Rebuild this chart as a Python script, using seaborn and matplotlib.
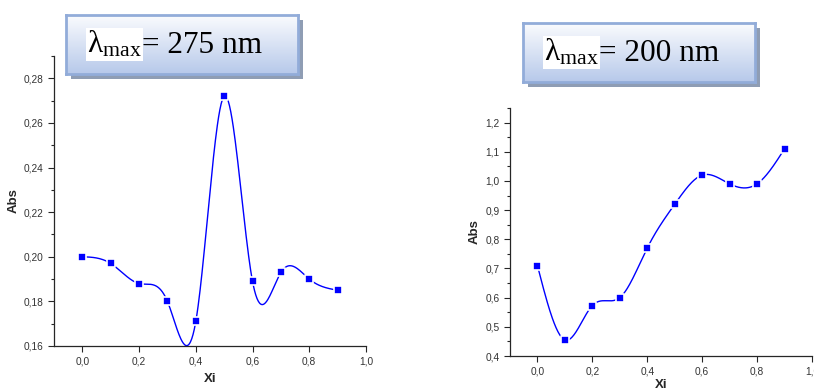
import matplotlib
matplotlib.use("Agg")
import matplotlib.pyplot as plt
import matplotlib.ticker as mticker
import matplotlib.transforms as mtrans
import numpy as np
import seaborn as sns

# data
xi = [0.0, 0.1, 0.2, 0.3, 0.4, 0.5, 0.6, 0.7, 0.8, 0.9]
abs_275 = [0.200, 0.197, 0.188, 0.180, 0.171, 0.272, 0.189, 0.193, 0.190, 0.185]
abs_200 = [0.71, 0.455, 0.573, 0.600, 0.77, 0.92, 1.02, 0.99, 0.99, 1.11]
titles = ["275", "200"]

sns.set_style("ticks")
plt.rcParams['font.family'] = ['Liberation Sans', 'DejaVu Sans']
plt.rcParams['mathtext.fontset'] = 'custom'
plt.rcParams['mathtext.rm'] = 'Liberation Serif'


def natural_spline(x, y, n=400):
    # natural cubic spline through the points (like Origin's spline line)
    x = np.asarray(x, float)
    y = np.asarray(y, float)
    k = len(x)
    h = np.diff(x)
    A = np.zeros((k, k))
    b = np.zeros(k)
    A[0, 0] = A[-1, -1] = 1
    for i in range(1, k - 1):
        A[i, i - 1] = h[i - 1]
        A[i, i] = 2 * (h[i - 1] + h[i])
        A[i, i + 1] = h[i]
        b[i] = 6 * ((y[i + 1] - y[i]) / h[i] - (y[i] - y[i - 1]) / h[i - 1])
    M = np.linalg.solve(A, b)
    xs = np.linspace(x[0], x[-1], n)
    j = np.clip(np.searchsorted(x, xs) - 1, 0, k - 2)
    t0 = x[j + 1] - xs
    t1 = xs - x[j]
    ys = (M[j] * t0**3 + M[j + 1] * t1**3) / (6 * h[j]) \
        + (y[j] / h[j] - M[j] * h[j] / 6) * t0 \
        + (y[j + 1] / h[j] - M[j + 1] * h[j] / 6) * t1
    return xs, ys


fig = plt.figure(figsize=(8.14, 3.91), dpi=100)

ax1 = fig.add_axes([0.0663, 0.1151, 0.3833, 0.7417])
ax2 = fig.add_axes([0.6265, 0.0895, 0.3710, 0.6343])

setups = [
    (ax1, abs_275, (0.16, 0.29), 0.02, 0.01, 5),
    (ax2, abs_200, (0.4, 1.25), 0.1, 0.05, 1.5),
]

comma = mticker.FuncFormatter(lambda v, p: ("%.1f" % v).replace(".", ","))
for ax, yv, ylim, major, minor, xpad in setups:
    xs, ys = natural_spline(xi, yv)
    sns.lineplot(x=xs, y=ys, ax=ax, color="blue", lw=1, sort=False)
    sns.scatterplot(x=xi, y=yv, ax=ax, marker="s", color="blue", s=36,
                    edgecolor="white", linewidth=1.2, zorder=3)
    ax.set_xlim(-0.1, 1.0)
    ax.set_ylim(*ylim)
    ax.xaxis.set_major_locator(mticker.MultipleLocator(0.2))
    ax.xaxis.set_major_formatter(comma)
    ax.yaxis.set_major_locator(mticker.MultipleLocator(major))
    ax.yaxis.set_minor_locator(mticker.MultipleLocator(minor))
    fmt = "%.2f" if major < 0.1 else "%.1f"
    ax.yaxis.set_major_formatter(
        mticker.FuncFormatter(lambda v, p, f=fmt: (f % v).replace(".", ",")))
    ax.xaxis.set_minor_locator(mticker.MultipleLocator(0.1))
    ax.tick_params(which="both", direction="out", labelsize=7.3,
                   labelcolor="#333333", width=0.8)
    ax.tick_params(which="major", length=4)
    ax.tick_params(which="minor", length=2)
    ax.tick_params(axis="x", which="minor", length=0)
    for s in ["top", "right"]:
        ax.spines[s].set_visible(False)
    for s in ["left", "bottom"]:
        ax.spines[s].set_linewidth(0.9)
    ax.set_xlabel("Xi", fontsize=9.5, fontweight="bold", labelpad=xpad)
    ax.set_ylabel("Abs", fontsize=9.5, fontweight="bold", labelpad=3)

# the lambda max boxes with their gradient and shadow
boxes = [(0.0811, 0.8107), (0.6425, 0.7903)]
grad = np.linspace(0, 1, 100).reshape(-1, 1)
cmap = matplotlib.colors.LinearSegmentedColormap.from_list(
    "box", ["#fbfcfe", "#b7c9ea"])
fig.canvas.draw()
renderer = fig.canvas.get_renderer()
for (bx, by), t in zip(boxes, titles):
    w, h = 0.285, 0.151
    sh = fig.add_axes([bx + 0.006, by - 0.012, w, h])
    sh.set_facecolor("#8f9db4")
    sh.set_xticks([])
    sh.set_yticks([])
    for s in sh.spines.values():
        s.set_visible(False)
    bax = fig.add_axes([bx, by, w, h])
    bax.imshow(grad, aspect="auto", cmap=cmap, extent=[0, 1, 0, 1])
    bax.set_xticks([])
    bax.set_yticks([])
    for s in bax.spines.values():
        s.set_color("#92acd9")
        s.set_linewidth(2)
    t1 = bax.text(0.09, 0.36, r"$\mathrm{\lambda_{max}}$",
                  transform=bax.transAxes, ha="left", va="baseline",
                  fontsize=22.5, color="black",
                  bbox=dict(facecolor="white", edgecolor="none", pad=1))
    ext = t1.get_window_extent(renderer)
    x0 = bax.transAxes.transform((0.09, 0.36))[0]
    off = mtrans.offset_copy(bax.transAxes, fig=fig, x=(ext.x1 - x0) * 72 / fig.dpi,
                             y=0, units="points")
    bax.text(0.09, 0.36, "= " + t + " nm", transform=off, ha="left",
             va="baseline", fontsize=22.5, family="Liberation Serif", color="black")

fig.savefig("out.png", dpi=100)
